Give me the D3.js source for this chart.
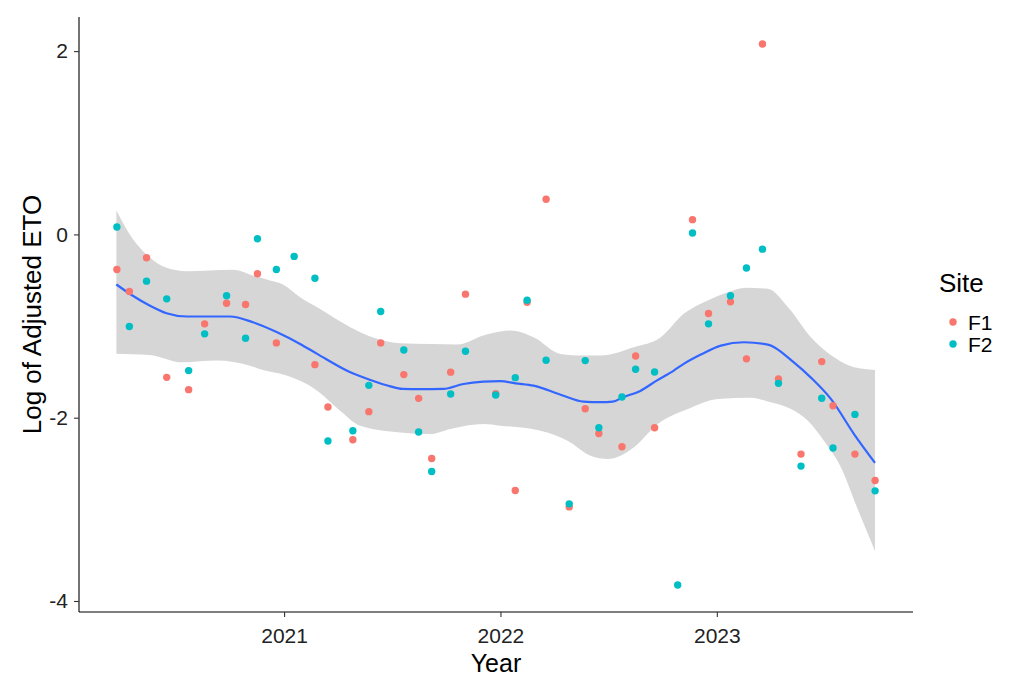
<!DOCTYPE html>
<html>
<head>
<meta charset="utf-8">
<script src="https://cdn.jsdelivr.net/npm/d3@7"></script>
<style>
  html, body { margin: 0; padding: 0; background: #ffffff; }
  svg { display: block; font-family: "Liberation Sans", Arial, sans-serif; }
</style>
</head>
<body>
<svg id="chart" width="1013" height="679"></svg>
<script>
// Sampling dates and log adjusted ETO per site
const sampleDates = ["2020-03-25","2020-04-15","2020-05-14","2020-06-17","2020-07-24","2020-08-20","2020-09-26","2020-10-28","2020-11-17","2020-12-19","2021-01-18","2021-02-22","2021-03-16","2021-04-27","2021-05-24","2021-06-13","2021-07-22","2021-08-16","2021-09-07","2021-10-09","2021-11-03","2021-12-24","2022-01-26","2022-02-15","2022-03-19","2022-04-27","2022-05-24","2022-06-16","2022-07-25","2022-08-17","2022-09-18","2022-10-27","2022-11-21","2022-12-18","2023-01-24","2023-02-20","2023-03-19","2023-04-15","2023-05-23","2023-06-27","2023-07-16","2023-08-22","2023-09-25"];
const siteF1 = [-0.383,-0.623,-0.255,-1.560,-1.694,-0.976,-0.751,-0.765,-0.430,-1.184,null,-1.421,-1.883,-2.240,-1.934,-1.184,-1.530,-1.789,-2.445,-1.503,-0.652,-1.738,-2.795,-0.740,0.383,-2.973,-1.902,-2.172,-2.317,-1.326,-2.109,null,0.161,-0.863,-0.736,-1.358,2.077,-1.577,-2.397,-1.388,-1.869,-2.397,-2.685];
const siteF2 = [0.080,-1.005,-0.510,-0.703,-1.486,-1.085,-0.670,-1.133,-0.047,-0.383,-0.240,-0.478,-2.255,-2.142,-1.647,-0.842,-1.262,-2.156,-2.587,-1.741,-1.275,-1.752,-1.563,-0.718,-1.374,-2.940,-1.377,-2.109,-1.774,-1.472,-1.501,-3.825,0.016,-0.976,-0.670,-0.366,-0.161,-1.625,-2.528,-1.787,-2.331,-1.964,-2.798];

const siteNames = ["F1", "F2"];
const siteColors = ["#F8766D", "#00BFC4"];

// Smoothed trend (decimal years) with its confidence band
const fitYears = [2020.227,2020.301,2020.380,2020.458,2020.551,2020.657,2020.750,2020.856,2020.968,2021.074,2021.153,2021.306,2021.398,2021.491,2021.546,2021.630,2021.736,2021.829,2021.921,2022.000,2022.069,2022.153,2022.278,2022.384,2022.463,2022.519,2022.565,2022.648,2022.722,2022.801,2022.847,2022.926,2023.019,2023.125,2023.236,2023.356,2023.435,2023.528,2023.634,2023.731];
const fitValues = [-0.546,-0.667,-0.776,-0.860,-0.896,-0.896,-0.896,-0.958,-1.068,-1.195,-1.304,-1.505,-1.588,-1.658,-1.686,-1.689,-1.686,-1.632,-1.607,-1.601,-1.625,-1.650,-1.749,-1.825,-1.831,-1.825,-1.778,-1.705,-1.596,-1.486,-1.413,-1.311,-1.213,-1.177,-1.202,-1.396,-1.563,-1.798,-2.178,-2.492];

const upperYears = [2020.227,2020.301,2020.380,2020.458,2020.551,2020.657,2020.764,2020.856,2020.935,2020.995,2021.074,2021.153,2021.306,2021.398,2021.537,2021.676,2021.801,2021.921,2022.000,2022.046,2022.153,2022.278,2022.384,2022.463,2022.616,2022.741,2022.847,2022.958,2023.051,2023.134,2023.236,2023.329,2023.435,2023.542,2023.634,2023.731];
const upperValues = [0.262,-0.044,-0.248,-0.364,-0.401,-0.393,-0.386,-0.448,-0.503,-0.546,-0.685,-0.795,-1.013,-1.115,-1.188,-1.197,-1.202,-1.104,-1.060,-1.049,-1.122,-1.304,-1.322,-1.322,-1.232,-1.122,-0.867,-0.721,-0.631,-0.583,-0.593,-0.795,-1.122,-1.341,-1.450,-1.479];

const lowerYears = [2020.227,2020.380,2020.532,2020.690,2020.843,2020.912,2020.995,2021.153,2021.259,2021.352,2021.537,2021.676,2021.769,2021.921,2022.000,2022.185,2022.310,2022.417,2022.495,2022.616,2022.727,2022.866,2023.005,2023.157,2023.236,2023.343,2023.421,2023.495,2023.574,2023.648,2023.731];
const lowerValues = [-1.301,-1.315,-1.396,-1.377,-1.432,-1.486,-1.530,-1.705,-1.923,-2.087,-2.161,-2.178,-2.123,-2.069,-2.087,-2.142,-2.251,-2.415,-2.451,-2.325,-2.069,-1.905,-1.796,-1.781,-1.822,-1.905,-2.033,-2.251,-2.543,-2.980,-3.454];

const yTicks = [-4, -2, 0, 2];
const xTickYears = [2021, 2022, 2023];

// ---- helpers ----
const parseDate = d3.utcParse("%Y-%m-%d");
function yearToDate(y) {
  const yr = Math.floor(y);
  const start = Date.UTC(yr, 0, 1), end = Date.UTC(yr + 1, 0, 1);
  return new Date(start + (y - yr) * (end - start));
}
function expand(ext, f) {
  const span = ext[1] - ext[0];
  return [ext[0] - span * f, ext[1] + span * f];
}

const dates = sampleDates.map(parseDate);
const points = [];
[siteF1, siteF2].forEach((vals, s) => {
  vals.forEach((v, i) => { if (v !== null) points.push({ date: dates[i], value: v, site: s }); });
});

// ---- layout ----
const svg = d3.select("#chart");
const panel = { left: 79, right: 913, top: 17, bottom: 612 };
const FONT = "'Liberation Sans', Arial, sans-serif";

const tExt = d3.extent(dates, d => +d);
const x = d3.scaleUtc()
  .domain(expand(tExt, 0.05).map(t => new Date(t)))
  .range([panel.left, panel.right]);

const vExt = d3.extent(points, d => d.value);
const y = d3.scaleLinear()
  .domain(expand(vExt, 0.05))
  .range([panel.bottom, panel.top]);

// confidence band: upper edge left-to-right, lower edge right-to-left
const smooth = d3.line().curve(d3.curveMonotoneX);
const upperPts = upperYears.map((yr, i) => [x(yearToDate(yr)), y(upperValues[i])]);
const lowerPts = lowerYears.map((yr, i) => [x(yearToDate(yr)), y(lowerValues[i])]).reverse();
const lowerPath = smooth(lowerPts).replace(/^M/, "L");
svg.append("path")
  .attr("d", smooth(upperPts) + lowerPath + "Z")
  .attr("fill", "#999999")
  .attr("fill-opacity", 0.4)
  .attr("stroke", "none");

// trend line
svg.append("path")
  .datum(fitYears.map((yr, i) => ({ date: yearToDate(yr), value: fitValues[i] })))
  .attr("d", d3.line().x(d => x(d.date)).y(d => y(d.value)).curve(d3.curveMonotoneX))
  .attr("fill", "none")
  .attr("stroke", "#3366FF")
  .attr("stroke-width", 2.2);

// points
svg.append("g").selectAll("circle")
  .data(points)
  .join("circle")
  .attr("cx", d => x(d.date))
  .attr("cy", d => y(d.value))
  .attr("r", 3.7)
  .attr("fill", d => siteColors[d.site]);

// axes
const xAxis = d3.axisBottom(x)
  .tickValues(xTickYears.map(yr => new Date(Date.UTC(yr, 0, 1))))
  .tickFormat(d3.utcFormat("%Y"))
  .tickSize(5).tickPadding(11);
const gx = svg.append("g").attr("transform", `translate(0,${panel.bottom})`).call(xAxis);
gx.select(".domain").attr("d", `M${panel.left},0H${panel.right}`).attr("stroke", "#000").attr("stroke-width", 1.1);

const yAxis = d3.axisLeft(y)
  .tickValues(yTicks)
  .tickFormat(d => String(d))
  .tickSize(5).tickPadding(6);
const gy = svg.append("g").attr("transform", `translate(${panel.left},0)`).call(yAxis);
gy.select(".domain").attr("d", `M0,${panel.top}V${panel.bottom}`).attr("stroke", "#000").attr("stroke-width", 1.1);

[gx, gy].forEach(g => {
  g.selectAll(".tick line").attr("stroke", "#333333").attr("stroke-width", 1.1);
  g.selectAll(".tick text").attr("fill", "#222222")
    .style("font-size", "21px").style("font-family", FONT);
});

// axis titles
svg.append("text")
  .attr("x", (panel.left + panel.right) / 2).attr("y", 672)
  .attr("text-anchor", "middle")
  .style("font-size", "25px").style("font-family", FONT).attr("fill", "#000")
  .text("Year");

svg.append("text")
  .attr("transform", `translate(41,${(panel.top + panel.bottom) / 2}) rotate(-90)`)
  .attr("text-anchor", "middle")
  .style("font-size", "26px").style("font-family", FONT).attr("fill", "#000")
  .text("Log of Adjusted ETO");

// legend
const legend = svg.append("g").attr("transform", "translate(939,0)");
legend.append("text").attr("x", 0).attr("y", 292)
  .style("font-size", "26px").style("font-family", FONT).attr("fill", "#000").text("Site");
siteNames.forEach((name, i) => {
  const cy = 322 + i * 22;
  legend.append("circle").attr("cx", 14).attr("cy", cy).attr("r", 3.7).attr("fill", siteColors[i]);
  legend.append("text").attr("x", 29).attr("y", cy + 7.5)
    .style("font-size", "21px").style("font-family", FONT).attr("fill", "#000").text(name);
});
</script>
</body>
</html>
